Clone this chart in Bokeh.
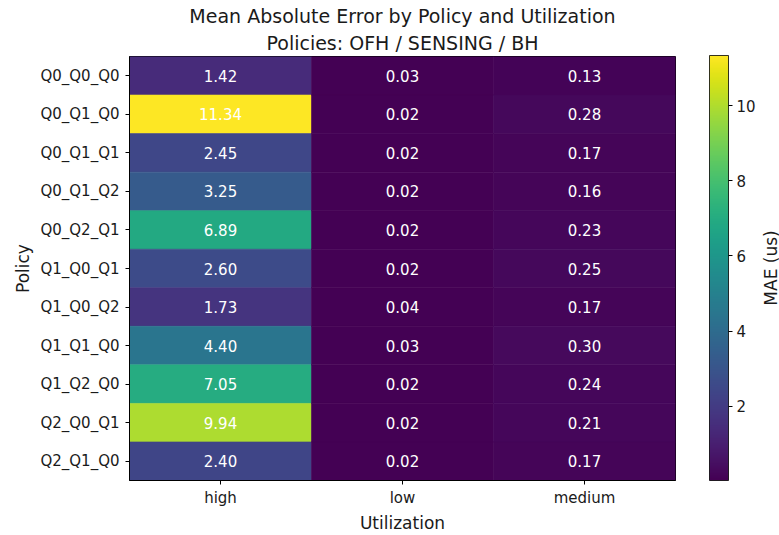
import math

from bokeh.core.properties import value
from bokeh.embed import file_html
from bokeh.layouts import row
from bokeh.models import (ColorBar, ColumnDataSource, FixedTicker, Label,
                          LinearColorMapper, Title)
from bokeh.palettes import Viridis256
from bokeh.plotting import figure
from bokeh.resources import INLINE
from bokeh.transform import transform

# Mean absolute error (us) per policy and utilization level
policies = ["Q0_Q0_Q0", "Q0_Q1_Q0", "Q0_Q1_Q1", "Q0_Q1_Q2", "Q0_Q2_Q1",
            "Q1_Q0_Q1", "Q1_Q0_Q2", "Q1_Q1_Q0", "Q1_Q2_Q0", "Q2_Q0_Q1",
            "Q2_Q1_Q0"]
utilizations = ["high", "low", "medium"]
mae_high = [1.42, 11.34, 2.45, 3.25, 6.89, 2.60, 1.73, 4.40, 7.05, 9.94, 2.40]
mae_low = [0.03, 0.02, 0.02, 0.02, 0.02, 0.02, 0.04, 0.03, 0.02, 0.02, 0.02]
mae_medium = [0.13, 0.28, 0.17, 0.16, 0.23, 0.25, 0.17, 0.30, 0.24, 0.21, 0.17]
colorbar_ticks = [2, 4, 6, 8, 10]

FONT = "DejaVu Sans"
TEXT_COLOR = "#1a1a1a"
HEIGHT = 535
BORDER_TOP, BORDER_BOTTOM = 56, 54

# long-form table for the heatmap cells
xs, ys, vals = [], [], []
for util, series in zip(utilizations, [mae_high, mae_low, mae_medium]):
    for pol, v in zip(policies, series):
        xs.append(util)
        ys.append(pol)
        vals.append(v)
source = ColumnDataSource(dict(util=xs, policy=ys, mae=vals,
                               label=[f"{v:.2f}" for v in vals]))

all_vals = mae_high + mae_low + mae_medium
mapper = LinearColorMapper(palette=Viridis256, low=min(all_vals), high=max(all_vals))

# ---- heatmap -------------------------------------------------------------
p = figure(width=700, height=HEIGHT, x_range=utilizations,
           y_range=list(reversed(policies)), output_backend="svg",
           toolbar_location=None, title=None,
           min_border_left=129, min_border_right=25,
           min_border_top=BORDER_TOP, min_border_bottom=BORDER_BOTTOM)

p.rect(x="util", y="policy", width=1, height=1, source=source,
       fill_color=transform("mae", mapper),
       line_color=transform("mae", mapper), line_width=0.6)
p.text(x="util", y="policy", text="label", source=source,
       text_color="white", text_align="center", text_baseline="middle",
       text_font=value(FONT), text_font_size="15px")

# titles (second line sits closest to the plot)
p.add_layout(Title(text="Policies: OFH / SENSING / BH", align="center",
                   text_font=FONT, text_font_size="19px",
                   text_font_style="normal", text_color=TEXT_COLOR,
                   standoff=6), "above")
p.add_layout(Title(text="Mean Absolute Error by Policy and Utilization",
                   align="center", text_font=FONT, text_font_size="19px",
                   text_font_style="normal", text_color=TEXT_COLOR,
                   standoff=0), "above")

p.grid.visible = False
p.outline_line_color = "black"
p.outline_line_width = 1
p.background_fill_color = "white"

for ax in (p.xaxis[0], p.yaxis[0]):
    ax.major_label_text_font = FONT
    ax.major_label_text_font_size = "15px"
    ax.major_label_text_color = TEXT_COLOR
    ax.axis_label_text_font = FONT
    ax.axis_label_text_font_size = "17px"
    ax.axis_label_text_font_style = "normal"
    ax.axis_label_text_color = TEXT_COLOR
    ax.major_tick_in = 0
    ax.major_tick_out = 4
    ax.major_tick_line_color = "black"
    ax.axis_line_color = "black"
    ax.major_label_standoff = 6
    ax.axis_label_standoff = 4

p.xaxis.major_label_standoff = 4
p.xaxis.axis_label_standoff = 3
p.xaxis.axis_label = "Utilization"
p.yaxis.axis_label = "Policy"

# ---- colorbar panel (its frame lines up with the heatmap frame) -----------
cb = figure(width=79, height=HEIGHT, x_range=(0, 1), y_range=(0, 1),
            output_backend="svg", toolbar_location=None,
            x_axis_type=None, y_axis_type=None,
            min_border_left=0, min_border_right=0,
            min_border_top=0, min_border_bottom=0)
cb.grid.visible = False
cb.outline_line_color = None

bar_height = HEIGHT - BORDER_TOP - BORDER_BOTTOM
color_bar = ColorBar(color_mapper=mapper, ticker=FixedTicker(ticks=colorbar_ticks),
                     width=19, height=bar_height,
                     location=(9, 0), padding=0, margin=0,
                     major_label_text_font=FONT,
                     major_label_text_font_size="15px",
                     major_label_text_color=TEXT_COLOR,
                     major_tick_in=0, major_tick_out=4,
                     major_tick_line_color="black",
                     label_standoff=4,
                     bar_line_color="black", bar_line_width=0.8,
                     border_line_color=None, background_fill_color=None)
cb.add_layout(color_bar)

# colorbar caption, reading bottom to top
cb.add_layout(Label(x=70, y=bar_height / 2,
                    x_units="screen", y_units="screen",
                    text="MAE (us)", angle=math.pi / 2, text_align="center",
                    text_baseline="middle", text_font=FONT,
                    text_font_size="17px", text_color=TEXT_COLOR))

layout = row(p, cb)
open("out.html", "w").write(file_html(layout, INLINE))
